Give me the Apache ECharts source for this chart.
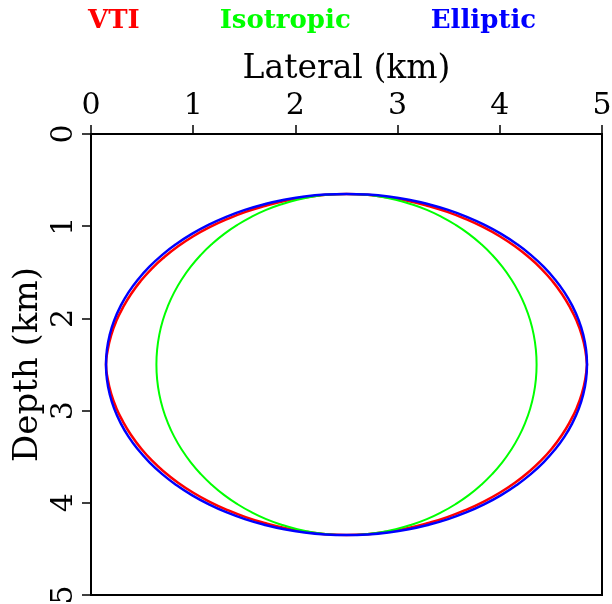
<!DOCTYPE html>
<html>
<head>
<meta charset="utf-8">
<script src="https://cdn.jsdelivr.net/npm/echarts@6/dist/echarts.min.js"></script>
<style>html,body{margin:0;padding:0;background:#fff}#c{width:612px;height:604px}</style>
</head>
<body>
<div id="c"></div>
<script>
// Tick labels
var lateralTicks = [0, 1, 2, 3, 4, 5];
var depthTicks = [0, 1, 2, 3, 4, 5];
var seriesNames = ['VTI', 'Isotropic', 'Elliptic'];

// VTI wavefront (lateral km, depth km)
var vtiX = [4.853,4.836,4.803,4.753,4.687,4.608,4.515,4.407,4.284,4.148,3.999,3.839,3.668,3.487,3.301,3.107,2.908,2.705,2.5,
  2.295,2.092,1.893,1.699,1.513,1.332,1.161,1.001,0.852,0.716,0.593,0.485,0.392,0.313,0.247,0.197,0.164,0.147,
  0.164,0.197,0.247,0.313,0.392,0.485,0.593,0.716,0.852,1.001,1.161,1.332,1.513,1.699,1.893,2.092,2.295,2.5,
  2.705,2.908,3.107,3.301,3.487,3.668,3.839,3.999,4.148,4.284,4.407,4.515,4.608,4.687,4.753,4.803,4.836,4.853];
var vtiDepth = [2.5,2.340,2.183,2.029,1.881,1.736,1.596,1.462,1.336,1.218,1.109,1.011,0.923,0.845,0.781,0.727,0.687,0.660,0.65,
  0.660,0.687,0.727,0.781,0.845,0.923,1.011,1.109,1.218,1.336,1.462,1.596,1.736,1.881,2.029,2.183,2.340,2.5,
  2.660,2.817,2.971,3.119,3.264,3.404,3.538,3.664,3.782,3.891,3.989,4.077,4.155,4.219,4.273,4.313,4.340,4.35,
  4.340,4.313,4.273,4.219,4.155,4.077,3.989,3.891,3.782,3.664,3.538,3.404,3.264,3.119,2.971,2.817,2.660,2.5];

// Isotropic wavefront
var isoX = [4.36,4.353,4.332,4.297,4.248,4.186,4.111,4.024,3.925,3.815,3.696,3.567,3.43,3.286,3.136,2.981,2.823,2.662,2.5,
  2.338,2.177,2.019,1.864,1.714,1.57,1.433,1.304,1.185,1.075,0.976,0.889,0.814,0.752,0.703,0.668,0.647,0.64,
  0.647,0.668,0.703,0.752,0.814,0.889,0.976,1.075,1.185,1.304,1.433,1.57,1.714,1.864,2.019,2.177,2.338,2.5,
  2.662,2.823,2.981,3.136,3.286,3.43,3.567,3.696,3.815,3.925,4.024,4.111,4.186,4.248,4.297,4.332,4.353,4.36];
var isoDepth = [2.5,2.339,2.179,2.021,1.867,1.718,1.575,1.439,1.311,1.192,1.083,0.985,0.898,0.823,0.762,0.713,0.678,0.657,0.65,
  0.657,0.678,0.713,0.762,0.823,0.898,0.985,1.083,1.192,1.311,1.439,1.575,1.718,1.867,2.021,2.179,2.339,2.5,
  2.661,2.821,2.979,3.133,3.282,3.425,3.561,3.689,3.808,3.917,4.015,4.102,4.177,4.238,4.287,4.322,4.343,4.35,
  4.343,4.322,4.287,4.238,4.177,4.102,4.015,3.917,3.808,3.689,3.561,3.425,3.282,3.133,2.979,2.821,2.661,2.5];

// Elliptic wavefront
var ellX = [4.853,4.844,4.817,4.773,4.711,4.633,4.538,4.428,4.303,4.164,4.013,3.850,3.677,3.494,3.305,3.109,2.909,2.705,2.5,
  2.295,2.091,1.891,1.695,1.506,1.323,1.150,0.987,0.836,0.697,0.572,0.462,0.367,0.289,0.227,0.183,0.156,0.147,
  0.156,0.183,0.227,0.289,0.367,0.462,0.572,0.697,0.836,0.987,1.150,1.323,1.506,1.695,1.891,2.091,2.295,2.5,
  2.705,2.909,3.109,3.305,3.494,3.677,3.850,4.013,4.164,4.303,4.428,4.538,4.633,4.711,4.773,4.817,4.844,4.853];
var ellDepth = [2.5,2.339,2.179,2.021,1.867,1.718,1.575,1.439,1.311,1.192,1.083,0.985,0.898,0.823,0.762,0.713,0.678,0.657,0.65,
  0.657,0.678,0.713,0.762,0.823,0.898,0.985,1.083,1.192,1.311,1.439,1.575,1.718,1.867,2.021,2.179,2.339,2.5,
  2.661,2.821,2.979,3.133,3.282,3.425,3.561,3.689,3.808,3.917,4.015,4.102,4.177,4.238,4.287,4.322,4.343,4.35,
  4.343,4.322,4.287,4.238,4.177,4.102,4.015,3.917,3.808,3.689,3.561,3.425,3.282,3.133,2.979,2.821,2.661,2.5];

function zip(a, b) { return a.map(function (v, i) { return [v, b[i]]; }); }

var FONT = 'DejaVu Serif';
var colors = ['#ff0000', '#00ff00', '#0000ff'];

var chart = echarts.init(document.getElementById('c'), null, {renderer: 'canvas'});
chart.setOption({
  animation: false,
  backgroundColor: '#ffffff',
  legend: {
    top: 8,
    left: 83,
    padding: 0,
    itemWidth: 0,
    itemHeight: 0,
    itemGap: 75,
    icon: 'none',
    selectedMode: false,
    data: seriesNames.map(function (n, i) {
      return {name: n, textStyle: {color: colors[i], fontFamily: FONT, fontWeight: 'bold', fontSize: 26}};
    })
  },
  grid: {left: 91, top: 134, right: 10, bottom: 9, outerBoundsMode: 'none', containLabel: false,
    show: true, borderColor: '#000', borderWidth: 2, backgroundColor: 'transparent'},
  xAxis: {
    type: 'value', position: 'top', min: 0, max: 5, interval: 1,
    name: 'Lateral (km)', nameLocation: 'middle', nameGap: 48, nameMoveOverlap: false,
    nameTextStyle: {fontFamily: FONT, fontSize: 33, color: '#000'},
    axisLine: {show: true, lineStyle: {color: '#000', width: 2}},
    axisTick: {show: true, inside: false, length: 9, lineStyle: {color: '#000', width: 1.5}},
    axisLabel: {fontFamily: FONT, fontSize: 30, color: '#000', margin: 13,
      formatter: function (v) { return lateralTicks.indexOf(v) >= 0 ? String(v) : ''; }},
    splitLine: {show: false}
  },
  yAxis: {
    type: 'value', inverse: true, min: 0, max: 5, interval: 1,
    name: 'Depth (km)', nameLocation: 'middle', nameGap: 46, nameRotate: 90, nameMoveOverlap: false,
    nameTextStyle: {fontFamily: FONT, fontSize: 34, color: '#000'},
    axisLine: {show: true, lineStyle: {color: '#000', width: 2}},
    axisTick: {show: true, inside: false, length: 9, lineStyle: {color: '#000', width: 1.5}},
    axisLabel: {fontFamily: FONT, fontSize: 30, color: '#000', margin: 12, rotate: 90,
      formatter: function (v) { return depthTicks.indexOf(v) >= 0 ? String(v) : ''; }},
    splitLine: {show: false}
  },
  series: [
    {name: seriesNames[0], type: 'line', data: zip(vtiX, vtiDepth), smooth: true, showSymbol: false, lineStyle: {color: colors[0], width: 2.5}, itemStyle: {color: colors[0]}},
    {name: seriesNames[1], type: 'line', data: zip(isoX, isoDepth), smooth: true, showSymbol: false, lineStyle: {color: colors[1], width: 2}, itemStyle: {color: colors[1]}},
    {name: seriesNames[2], type: 'line', data: zip(ellX, ellDepth), smooth: true, showSymbol: false, lineStyle: {color: colors[2], width: 2.5}, itemStyle: {color: colors[2]}}
  ]
});
</script>
</body>
</html>
